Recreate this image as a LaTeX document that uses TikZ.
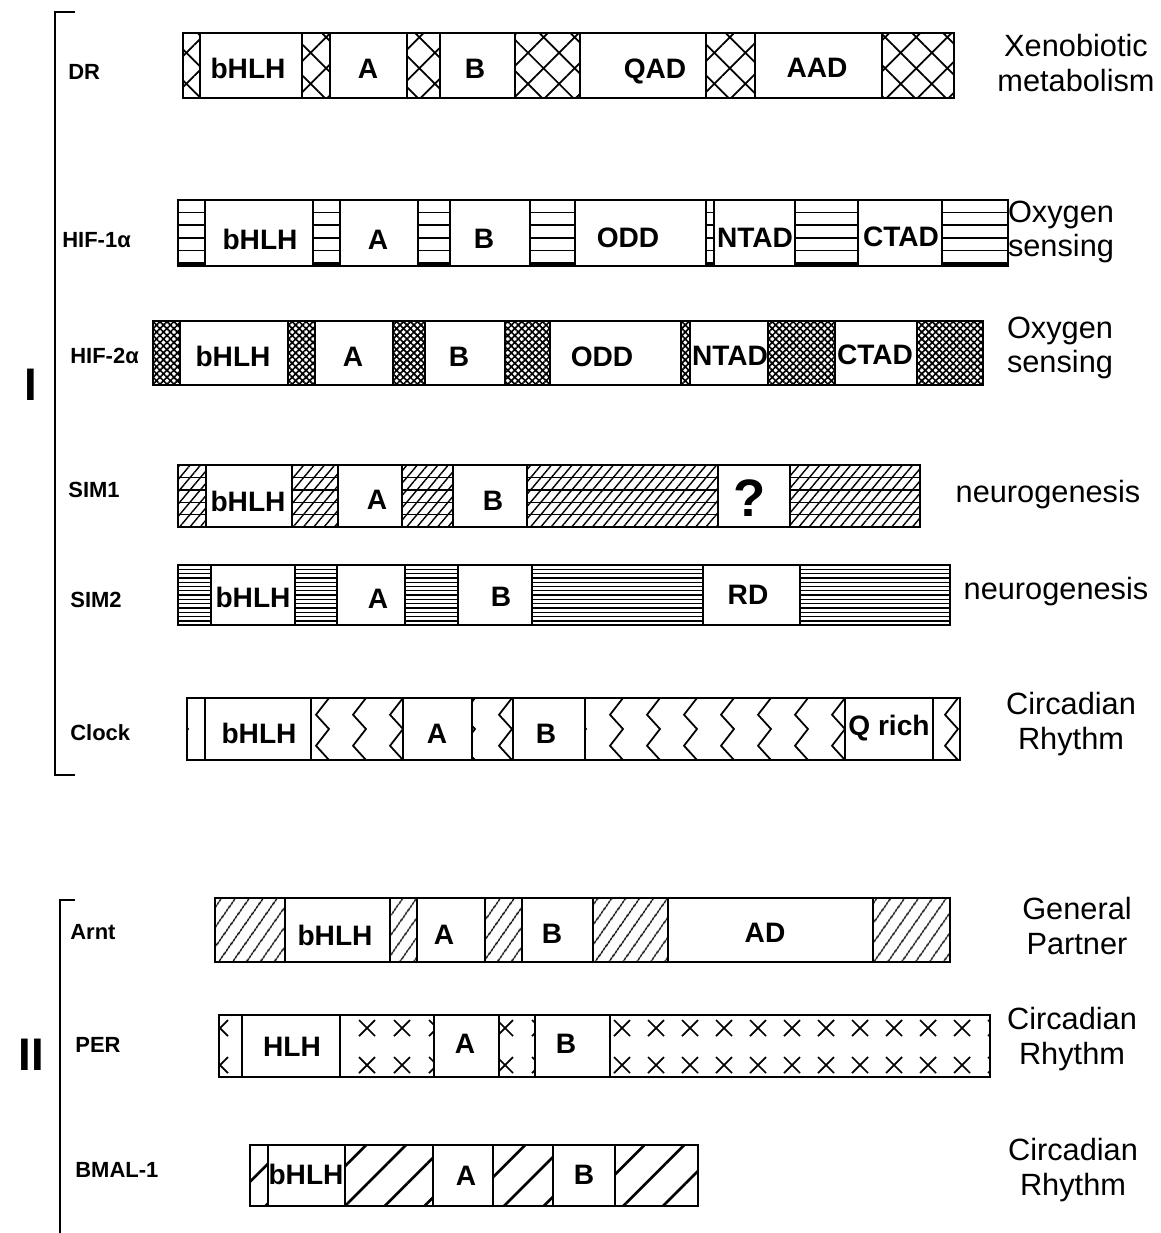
\documentclass[tikz,border=0pt]{standalone}
\usepackage{fontspec}
\setmainfont{Liberation Sans}
\usetikzlibrary{patterns.meta}

% zigzag columns inside one segment: x1, x2, top, bottom, first column, step
\newcommand{\zigfill}[6]{%
  \begin{scope}
    \clip (#1,#3) rectangle (#2,#4);
    \foreach \k in {0,...,9}{%
      \pgfmathsetmacro{\zx}{#5+#6*\k}%
      \draw[zig] (\zx+13,#3) -- (\zx,{#3+0.27*(#4-#3)}) -- (\zx+13,{0.5*(#3+#4)})
                 -- (\zx,{#3+0.77*(#4-#3)}) -- (\zx+13,#4);
    }
  \end{scope}
  \draw[seg] (#1,#3) rectangle (#2,#4);
}

% two rows of crosses inside one segment: x1, x2, top, bottom, first cross, step
\newcommand{\crossfill}[6]{%
  \begin{scope}
    \clip (#1,#3) rectangle (#2,#4);
    \foreach \k in {0,...,11}{%
      \pgfmathsetmacro{\zx}{#5+#6*\k}%
      \foreach \zy in {#3+13,#4-12}{%
        \draw[ex] (\zx-8,\zy-8) -- (\zx+8,\zy+8) (\zx-8,\zy+8) -- (\zx+8,\zy-8);
      }
    }
  \end{scope}
  \draw[seg] (#1,#3) rectangle (#2,#4);
}

% horizontal rules inside one segment: x1, x2, top, step, count, line width
\newcommand{\hstripes}[6]{%
  \foreach \k in {1,...,#5}
    \draw[line width=#6] (#1,{#3+#4*\k}) -- (#2,{#3+#4*\k});
}

\begin{document}
\begin{tikzpicture}[
    x=0.02cm, y=-0.02cm,
    seg/.style        = {draw, line width=1.1pt},
    zig/.style        = {line width=1pt},
    ex/.style         = {line width=1pt},
    brk/.style        = {line width=1.2pt},
    xhatch/.style     = {pattern={Hatch[angle=45,distance=12.5pt,line width=1pt]}},
    fine xhatch/.style= {pattern={Hatch[angle=45,distance=2.8pt,line width=.95pt]}},
    brick/.style      = {pattern={Lines[angle=50,distance=4.5pt,line width=.8pt]}},
    slant/.style      = {pattern={Lines[angle=55,distance=6.5pt,line width=.9pt]}},
    wide slant/.style = {pattern={Lines[angle=45,distance=16pt,line width=1.5pt]}},
    dom/.style        = {font=\fontsize{16}{18}\selectfont\bfseries, inner sep=0pt,
                         text height=11.5pt, text depth=0pt},
    pname/.style      = {font=\fontsize{12.5}{14}\selectfont\bfseries, anchor=west,
                         inner sep=0pt, text height=9pt, text depth=0pt},
    role/.style       = {font=\fontsize{17.5}{19.5}\selectfont, align=center, inner sep=0pt},
    grp/.style        = {font=\fontsize{26}{28}\selectfont\bfseries, inner sep=0pt}
  ]
  \useasboundingbox (0,0) rectangle (1160,1233);

  % ── Group I bracket ──────────────────────────────────────────────────────
  \draw[brk] (75,12) -- (55,12) -- (55,775) -- (75,775);
  \node[grp] (g1) at (31,385) {I};

  % ── DR ───────────────────────────────────────────────────────────────────
  \foreach \a/\b in {183/200, 302/330, 407/440, 515/580, 706/755, 882/954}
    \draw[seg, xhatch] (\a,33) rectangle (\b,98);
  \draw[seg] (183,33) rectangle (954,98);
  \node[pname] (dr) at (68,72) {DR};
  \node[dom] (dr-bhlh) at (248,68) {bHLH};
  \node[dom] (dr-a)    at (368,68) {A};
  \node[dom] (dr-b)    at (475,68) {B};
  \node[dom] (dr-qad)  at (655,68) {QAD};
  \node[dom] (dr-aad)  at (817,67) {AAD};
  \node[role] (dr-role) at (1076,63) {Xenobiotic\\metabolism};

  % ── HIF-1a ───────────────────────────────────────────────────────────────
  \foreach \a/\b in {178/205, 313/340, 418/450, 530/575, 706/714, 795/858, 942/1008}{
    \draw[seg] (\a,200) rectangle (\b,266);
    \hstripes{\a}{\b}{200}{12.6}{4}{.9pt}
    \draw[line width=2pt] (\a,264) -- (\b,264);
  }
  \draw[seg] (178,200) rectangle (1008,266);
  \node[pname] (hif1) at (62,240) {HIF-1α};
  \node[dom] (hif1-bhlh) at (260,239) {bHLH};
  \node[dom] (hif1-a)    at (378,239) {A};
  \node[dom] (hif1-b)    at (484,238) {B};
  \node[dom] (hif1-odd)  at (628,237) {ODD};
  \node[dom] (hif1-ntad) at (755,237) {NTAD};
  \node[dom] (hif1-ctad) at (901,236) {CTAD};
  \node[role] (hif1-role) at (1061,232) {Oxygen\\sensing};

  % ── HIF-2a ───────────────────────────────────────────────────────────────
  \foreach \a/\b in {153/180, 288/315, 393/425, 505/550, 681/690, 768/835, 917/983}
    \draw[seg, fine xhatch] (\a,321) rectangle (\b,385);
  \draw[seg] (153,321) rectangle (983,385);
  \node[pname] (hif2) at (70,356) {HIF-2α};
  \node[dom] (hif2-bhlh) at (233,356) {bHLH};
  \node[dom] (hif2-a)    at (353,356) {A};
  \node[dom] (hif2-b)    at (459,356) {B};
  \node[dom] (hif2-odd)  at (602,356) {ODD};
  \node[dom] (hif2-ntad) at (730,355) {NTAD};
  \node[dom] (hif2-ctad) at (875,354) {CTAD};
  \node[role] (hif2-role) at (1060,348) {Oxygen\\sensing};

  % ── SIM1 ─────────────────────────────────────────────────────────────────
  \foreach \a/\b in {178/206, 292/338, 402/453, 527/718, 790/920}{
    \draw[seg, brick] (\a,465) rectangle (\b,527);
    \hstripes{\a}{\b}{465}{12.4}{4}{.8pt}
  }
  \draw[seg] (178,465) rectangle (920,527);
  \node[pname] (sim1) at (68,490) {SIM1};
  \node[dom] (sim1-bhlh) at (248,501) {bHLH};
  \node[dom] (sim1-a)    at (377,499) {A};
  \node[dom] (sim1-b)    at (493,500) {B};
  \node[dom, font=\fontsize{30}{32}\selectfont\bfseries, text height=21pt] (sim1-q) at (750,498) {?};
  \node[role] (sim1-role) at (1048,495) {neurogenesis};

  % ── SIM2 ─────────────────────────────────────────────────────────────────
  \foreach \a/\b in {178/211, 295/337, 405/458, 532/703, 800/950}{
    \draw[seg] (\a,565) rectangle (\b,625);
    \hstripes{\a}{\b}{565}{4.3}{13}{.7pt}
  }
  \draw[seg] (178,565) rectangle (950,625);
  \node[pname] (sim2) at (70,600) {SIM2};
  \node[dom] (sim2-bhlh) at (253,597) {bHLH};
  \node[dom] (sim2-a)    at (378,598) {A};
  \node[dom] (sim2-b)    at (501,596) {B};
  \node[dom] (sim2-rd)   at (748,594) {RD};
  \node[role] (sim2-role) at (1056,592) {neurogenesis};

  % ── Clock ────────────────────────────────────────────────────────────────
  \zigfill{187}{205}{698}{760}{175}{37}
  \zigfill{311}{403}{698}{760}{316}{37}
  \zigfill{472}{513}{698}{760}{462}{37}
  \zigfill{585}{845}{698}{760}{573}{37}
  \zigfill{933}{960}{698}{760}{945}{37}
  \draw[seg] (187,698) rectangle (960,760);
  \node[pname] (clock) at (70,733) {Clock};
  \node[dom] (clock-bhlh) at (259,733) {bHLH};
  \node[dom] (clock-a)    at (437,733) {A};
  \node[dom] (clock-b)    at (546,733) {B};
  \node[dom] (clock-q)    at (889,725) {Q rich};
  \node[role] (clock-role) at (1071,724) {Circadian\\Rhythm};

  % ── Group II bracket ─────────────────────────────────────────────────────
  \draw[brk] (75,900) -- (60,900) -- (60,1233);
  \node[grp] (g2) at (31,1055) {II};

  % ── Arnt ─────────────────────────────────────────────────────────────────
  \foreach \a/\b in {215/285, 390/417, 485/522, 593/668, 873/950}
    \draw[seg, slant] (\a,898) rectangle (\b,962);
  \draw[seg] (215,898) rectangle (950,962);
  \node[pname] (arnt) at (70,932) {Arnt};
  \node[dom] (arnt-bhlh) at (335,935) {bHLH};
  \node[dom] (arnt-a)    at (444,934) {A};
  \node[dom] (arnt-b)    at (552,933) {B};
  \node[dom] (arnt-ad)   at (765,932) {AD};
  \node[role] (arnt-role) at (1077,926) {General\\Partner};

  % ── PER ──────────────────────────────────────────────────────────────────
  \crossfill{219}{242}{1015}{1077}{220}{35}
  \crossfill{340}{434}{1015}{1077}{367}{35}
  \crossfill{499}{535}{1015}{1077}{505}{35}
  \crossfill{610}{990}{1015}{1077}{622}{34}
  \draw[seg] (219,1015) rectangle (990,1077);
  \node[pname] (per) at (75,1045) {PER};
  \node[dom] (per-hlh) at (292,1046) {HLH};
  \node[dom] (per-a)   at (465,1043) {A};
  \node[dom] (per-b)   at (566,1043) {B};
  \node[role] (per-role) at (1072,1039) {Circadian\\Rhythm};

  % ── BMAL-1 ───────────────────────────────────────────────────────────────
  \foreach \a/\b in {250/268, 345/433, 493/553, 615/698}
    \draw[seg, wide slant] (\a,1145) rectangle (\b,1206);
  \draw[seg] (250,1145) rectangle (698,1206);
  \node[pname] (bmal) at (75,1170) {BMAL-1};
  \node[dom] (bmal-bhlh) at (306,1174) {bHLH};
  \node[dom] (bmal-a)    at (466,1175) {A};
  \node[dom] (bmal-b)    at (584,1174) {B};
  \node[role] (bmal-role) at (1073,1170) {Circadian\\Rhythm};
\end{tikzpicture}
\end{document}
